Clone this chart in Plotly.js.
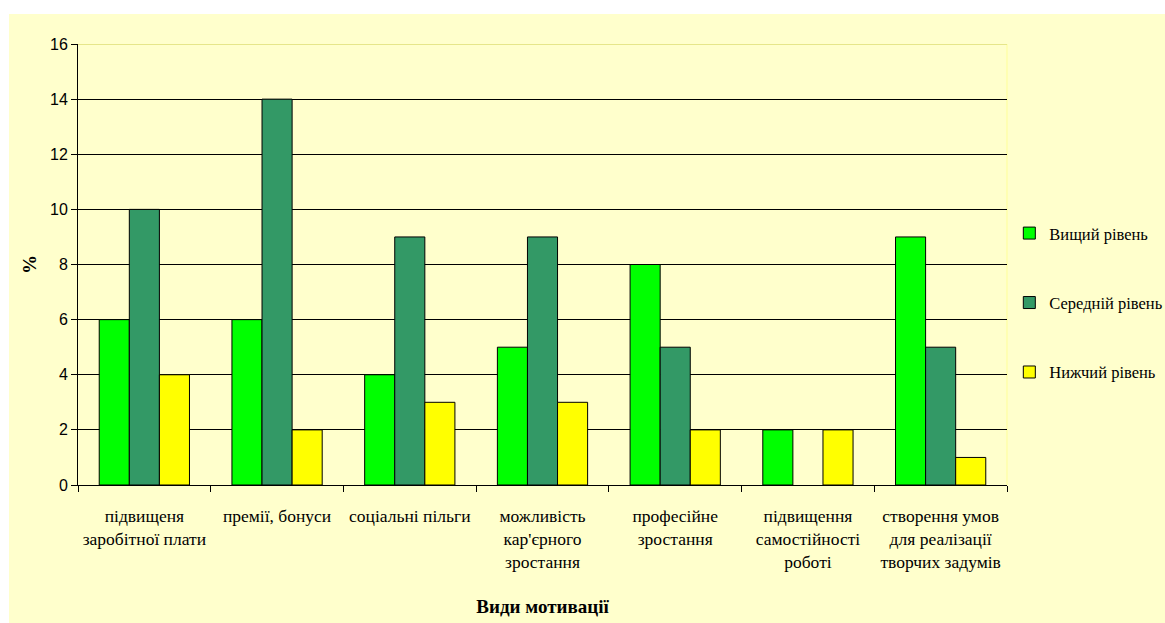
<!DOCTYPE html>
<html>
<head>
<meta charset="utf-8">
<script src="https://cdn.plot.ly/plotly-3.0.1.min.js"></script>
<style>
html,body{margin:0;padding:0;background:#ffffff;}
#chart{position:absolute;left:9px;top:14px;width:1156px;height:609px;}
</style>
</head>
<body>
<div id="chart"></div>
<script>
const categories = [
  "підвищеня<br>заробітної плати",
  "премії, бонуси",
  "соціальні пільги",
  "можливість<br>кар'єрного<br>зростання",
  "професійне<br>зростання",
  "підвищення<br>самостійності<br>роботі",
  "створення умов<br>для реалізації<br>творчих задумів"
];
const seriesNames = ["Вищий рівень", "Середній рівень", "Нижчий рівень"];
const higher = [6, 6, 4, 5, 8, 2, 9];
const middle = [10, 14, 9, 9, 5, null, 5];
const lower = [4, 2, 3, 3, 2, 2, 1];
const yTicks = [0, 2, 4, 6, 8, 10, 12, 14, 16];

const colors = ["#00FF00", "#339966", "#FFFF00"];
const values = [higher, middle, lower];
const serif = "'Liberation Serif', 'Times New Roman', serif";
const sans = "'Liberation Sans', Arial, sans-serif";

const traces = values.map((v, i) => ({
  type: "bar",
  name: seriesNames[i],
  x: categories,
  y: v,
  legendgroup: "g" + i,
  marker: {color: colors[i], line: {color: "#000000", width: 1}},
  hoverinfo: "skip"
}));

const layout = {
  width: 1156,
  height: 609,
  paper_bgcolor: "#FFFFCC",
  plot_bgcolor: "#FFFFCC",
  margin: {l: 69, r: 158, t: 30, b: 138, autoexpand: false},
  barmode: "group",
  bargap: 0.32,
  bargroupgap: 0,
  showlegend: true,
  legend: {
    x: 1.0025, xanchor: "left",
    y: 0.413, yanchor: "middle",
    font: {family: serif, size: 16.5, color: "#000000"},
    tracegroupgap: 45,
    bgcolor: "rgba(0,0,0,0)",
    itemwidth: 30
  },
  xaxis: {
    type: "category",
    tickson: "boundaries",
    ticks: "outside",
    ticklen: 6,
    tickcolor: "#000000",
    tickangle: 0,
    showline: true,
    linecolor: "#000000",
    linewidth: 1,
    showgrid: false,
    ticklabelstandoff: 15,
    tickfont: {family: serif, size: 17.5, color: "#000000"},
    title: {text: "<b>Види мотивації</b>", font: {family: serif, size: 19, color: "#000000"}, standoff: 29}
  },
  yaxis: {
    range: [0, 16],
    tickvals: yTicks,
    ticktext: yTicks.map(String),
    ticks: "outside",
    ticklen: 6,
    tickcolor: "#000000",
    showline: true,
    linecolor: "#000000",
    linewidth: 1,
    showgrid: true,
    gridcolor: "#000000",
    gridwidth: 1,
    zeroline: false,
    tickfont: {family: sans, size: 16, color: "#000000"},
    title: {text: "<b>%</b>", font: {family: serif, size: 19, color: "#000000"}, standoff: 8}
  },
  shapes: [
    {type: "line", xref: "paper", yref: "y", x0: 0, x1: 1, y0: 16, y1: 16, line: {color: "#E6E68A", width: 2}, layer: "above"},
    {type: "line", xref: "paper", yref: "paper", x0: 1, x1: 1, y0: 0, y1: 1, line: {color: "#FFFF99", width: 1}, layer: "below"}
  ]
};

Plotly.newPlot("chart", traces, layout, {displayModeBar: false, staticPlot: true});
</script>
</body>
</html>
